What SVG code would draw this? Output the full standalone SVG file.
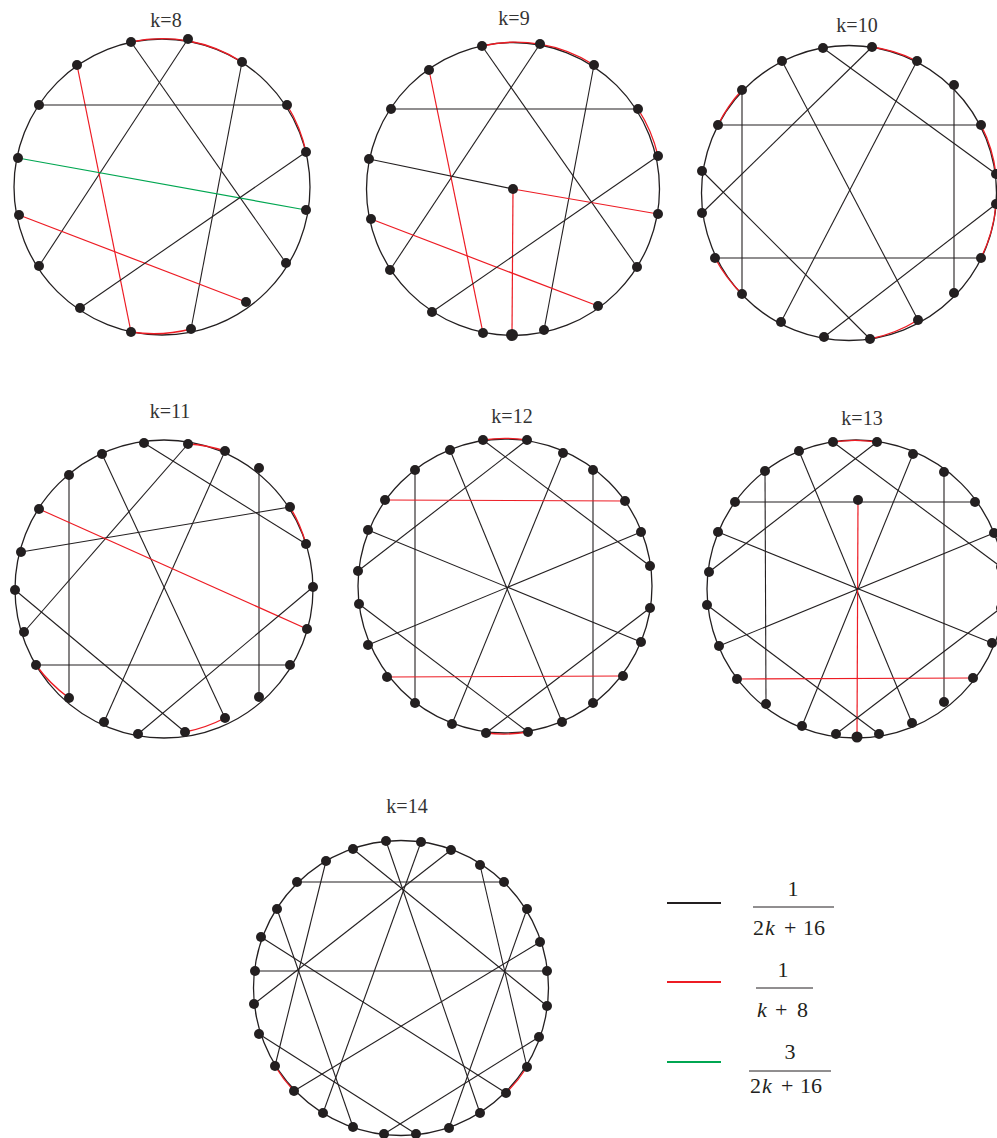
<svg xmlns="http://www.w3.org/2000/svg" width="997" height="1138" viewBox="0 0 997 1138">
<style>
.ring{fill:none;stroke:#231f20;stroke-width:1.3}
.e{stroke:#231f20;stroke-width:1.1;fill:none}
.r{stroke:#ed1c24;stroke-width:1.2;fill:none}
.ra{stroke:#ed1c24;stroke-width:1.35;fill:none}
.g{stroke:#00a651;stroke-width:1.2;fill:none}
.n{fill:#231f20}
.t{font-family:'Liberation Serif',serif;font-size:20px;fill:#333;text-anchor:middle}
.f{font-family:'Liberation Serif',serif;font-size:22px;fill:#231f20}
.fi{font-style:italic}
.bar{stroke:#231f20;stroke-width:1}
</style>
<rect width="997" height="1138" fill="#fff"/>

<!-- k=8 -->
<g id="k8">
<text class="t" x="166" y="27">k=8</text>
<circle class="ring" cx="162" cy="187" r="148"/>
<path class="ra" d="M131,42 A148,148 0 0 1 242,62 M287,105 A148,148 0 0 1 306,152 M191,329 A148,148 0 0 1 131,332"/>
<g id="k8-edges">
<line class="e" x1="131" y1="42" x2="286" y2="263"/>
<line class="e" x1="188" y1="39" x2="39" y2="266"/>
<line class="e" x1="242" y1="62" x2="191" y2="329"/>
<line class="r" x1="77" y1="65" x2="131" y2="332"/>
<line class="e" x1="39" y1="105" x2="287" y2="105"/>
<line class="g" x1="18" y1="158" x2="306" y2="210"/>
<line class="r" x1="19" y1="215" x2="246" y2="302"/>
<line class="e" x1="306" y1="152" x2="80" y2="308"/>
</g>
<g id="k8-nodes" class="n">
<circle id="k8-n1" cx="131" cy="42" r="5"/><circle id="k8-n2" cx="188" cy="39" r="5"/>
<circle id="k8-n3" cx="242" cy="62" r="5"/><circle id="k8-n4" cx="77" cy="65" r="5"/>
<circle id="k8-n5" cx="39" cy="105" r="5"/><circle id="k8-n6" cx="287" cy="105" r="5"/>
<circle id="k8-n7" cx="306" cy="152" r="5"/><circle id="k8-n8" cx="18" cy="158" r="5"/>
<circle id="k8-n9" cx="306" cy="210" r="5"/><circle id="k8-n10" cx="19" cy="215" r="5"/>
<circle id="k8-n11" cx="39" cy="266" r="5"/><circle id="k8-n12" cx="286" cy="263" r="5"/>
<circle id="k8-n13" cx="80" cy="308" r="5"/><circle id="k8-n14" cx="246" cy="302" r="5"/>
<circle id="k8-n15" cx="131" cy="332" r="5"/><circle id="k8-n16" cx="191" cy="329" r="5"/>
</g>
</g>

<!-- k=9 -->
<g id="k9">
<text class="t" x="514" y="25">k=9</text>
<circle class="ring" cx="513" cy="189" r="146.5"/>
<path class="ra" d="M482,46 A146.5,146.5 0 0 1 594,65 M638,109 A146.5,146.5 0 0 1 658,156"/>
<g id="k9-edges">
<line class="e" x1="482" y1="46" x2="637" y2="267"/>
<line class="e" x1="540" y1="44" x2="390" y2="270"/>
<line class="e" x1="594" y1="65" x2="544" y2="330"/>
<line class="r" x1="429" y1="70" x2="483" y2="333"/>
<line class="e" x1="391" y1="109" x2="638" y2="109"/>
<line class="e" x1="369" y1="159" x2="513" y2="189"/>
<line class="r" x1="513" y1="189" x2="658" y2="214"/>
<line class="r" x1="513" y1="189" x2="512" y2="335"/>
<line class="r" x1="371" y1="219" x2="598" y2="306"/>
<line class="e" x1="658" y1="156" x2="432" y2="312"/>
</g>
<g id="k9-nodes" class="n">
<circle id="k9-n1" cx="482" cy="46" r="5"/><circle id="k9-n2" cx="540" cy="44" r="5"/>
<circle id="k9-n3" cx="594" cy="65" r="5"/><circle id="k9-n4" cx="429" cy="70" r="5"/>
<circle id="k9-n5" cx="391" cy="109" r="5"/><circle id="k9-n6" cx="638" cy="109" r="5"/>
<circle id="k9-n7" cx="658" cy="156" r="5"/><circle id="k9-n8" cx="369" cy="159" r="5"/>
<circle id="k9-n9" cx="513" cy="189" r="5"/><circle id="k9-n10" cx="658" cy="214" r="5"/>
<circle id="k9-n11" cx="371" cy="219" r="5"/><circle id="k9-n12" cx="390" cy="270" r="5"/>
<circle id="k9-n13" cx="637" cy="267" r="5"/><circle id="k9-n14" cx="432" cy="312" r="5"/>
<circle id="k9-n15" cx="598" cy="306" r="5"/><circle id="k9-n16" cx="483" cy="333" r="5"/>
<circle id="k9-n17" cx="512" cy="335" r="6"/><circle id="k9-n18" cx="544" cy="330" r="5"/>
</g>
</g>

<!-- k=10 -->
<g id="k10">
<text class="t" x="857" y="32">k=10</text>
<circle class="ring" cx="849" cy="193" r="147.5"/>
<path class="ra" d="M872,47 A147.5,147.5 0 0 1 917,61 M981,125 A147.5,147.5 0 0 1 996,174 M996,204 A147.5,147.5 0 0 1 981,258 M918,320 A147.5,147.5 0 0 1 870,339 M742,294 A147.5,147.5 0 0 1 715,258 M718,125 A147.5,147.5 0 0 1 742,90"/>
<g id="k10-edges">
<line class="e" x1="823" y1="48" x2="996" y2="174"/>
<line class="e" x1="872" y1="47" x2="702" y2="213"/>
<line class="e" x1="917" y1="61" x2="781" y2="322"/>
<line class="e" x1="782" y1="61" x2="918" y2="320"/>
<line class="e" x1="954" y1="85" x2="954" y2="293"/>
<line class="e" x1="742" y1="90" x2="742" y2="294"/>
<line class="e" x1="718" y1="125" x2="981" y2="125"/>
<line class="e" x1="702" y1="171" x2="870" y2="339"/>
<line class="e" x1="996" y1="204" x2="824" y2="337"/>
<line class="e" x1="715" y1="258" x2="981" y2="258"/>
</g>
<g id="k10-nodes" class="n">
<circle id="k10-n1" cx="823" cy="48" r="5"/><circle id="k10-n2" cx="872" cy="47" r="5"/>
<circle id="k10-n3" cx="917" cy="61" r="5"/><circle id="k10-n4" cx="782" cy="61" r="5"/>
<circle id="k10-n5" cx="954" cy="85" r="5"/><circle id="k10-n6" cx="742" cy="90" r="5"/>
<circle id="k10-n7" cx="718" cy="125" r="5"/><circle id="k10-n8" cx="981" cy="125" r="5"/>
<circle id="k10-n9" cx="702" cy="171" r="5"/><circle id="k10-n10" cx="996" cy="174" r="5"/>
<circle id="k10-n11" cx="996" cy="204" r="5"/><circle id="k10-n12" cx="702" cy="213" r="5"/>
<circle id="k10-n13" cx="715" cy="258" r="5"/><circle id="k10-n14" cx="981" cy="258" r="5"/>
<circle id="k10-n15" cx="742" cy="294" r="5"/><circle id="k10-n16" cx="954" cy="293" r="5"/>
<circle id="k10-n17" cx="781" cy="322" r="5"/><circle id="k10-n18" cx="918" cy="320" r="5"/>
<circle id="k10-n19" cx="824" cy="337" r="5"/><circle id="k10-n20" cx="870" cy="339" r="5"/>
</g>
</g>

<!-- k=11 -->
<g id="k11">
<text class="t" x="170" y="418">k=11</text>
<circle class="ring" cx="164" cy="589" r="149"/>
<path class="ra" d="M188,444 A149,149 0 0 1 225,451 M290,507 A149,149 0 0 1 306,544 M225,718 A149,149 0 0 1 185,732 M69,698 A149,149 0 0 1 36,665"/>
<g id="k11-edges">
<line class="e" x1="144" y1="443" x2="306" y2="544"/>
<line class="e" x1="188" y1="444" x2="24" y2="632"/>
<line class="e" x1="225" y1="451" x2="104" y2="722"/>
<line class="e" x1="102" y1="454" x2="225" y2="718"/>
<line class="e" x1="259" y1="468" x2="259" y2="697"/>
<line class="e" x1="69" y1="475" x2="69" y2="698"/>
<line class="e" x1="290" y1="507" x2="21" y2="552"/>
<line class="r" x1="39" y1="509" x2="307" y2="629"/>
<line class="e" x1="15" y1="590" x2="185" y2="732"/>
<line class="e" x1="313" y1="587" x2="138" y2="734"/>
<line class="e" x1="36" y1="665" x2="290" y2="665"/>
</g>
<g id="k11-nodes" class="n">
<circle id="k11-n1" cx="144" cy="443" r="5"/><circle id="k11-n2" cx="188" cy="444" r="5"/>
<circle id="k11-n3" cx="225" cy="451" r="5"/><circle id="k11-n4" cx="102" cy="454" r="5"/>
<circle id="k11-n5" cx="259" cy="468" r="5"/><circle id="k11-n6" cx="69" cy="475" r="5"/>
<circle id="k11-n7" cx="290" cy="507" r="5"/><circle id="k11-n8" cx="39" cy="509" r="5"/>
<circle id="k11-n9" cx="306" cy="544" r="5"/><circle id="k11-n10" cx="21" cy="552" r="5"/>
<circle id="k11-n11" cx="313" cy="587" r="5"/><circle id="k11-n12" cx="15" cy="590" r="5"/>
<circle id="k11-n13" cx="307" cy="629" r="5"/><circle id="k11-n14" cx="24" cy="632" r="5"/>
<circle id="k11-n15" cx="36" cy="665" r="5"/><circle id="k11-n16" cx="290" cy="665" r="5"/>
<circle id="k11-n17" cx="69" cy="698" r="5"/><circle id="k11-n18" cx="259" cy="697" r="5"/>
<circle id="k11-n19" cx="104" cy="722" r="5"/><circle id="k11-n20" cx="225" cy="718" r="5"/>
<circle id="k11-n21" cx="138" cy="734" r="5"/><circle id="k11-n22" cx="185" cy="732" r="5"/>
</g>
</g>

<!-- k=12 -->
<g id="k12">
<text class="t" x="512" y="423">k=12</text>
<circle class="ring" cx="505" cy="586" r="147"/>
<path class="ra" d="M483,440 A147,147 0 0 1 527,440 M528,732 A147,147 0 0 1 486,733"/>
<g id="k12-edges">
<line class="e" x1="483" y1="440" x2="650" y2="566"/>
<line class="e" x1="527" y1="440" x2="358" y2="571"/>
<line class="e" x1="450" y1="450" x2="562" y2="722"/>
<line class="e" x1="563" y1="453" x2="452" y2="724"/>
<line class="e" x1="415" y1="470" x2="415" y2="703"/>
<line class="e" x1="593" y1="470" x2="593" y2="703"/>
<line class="r" x1="385" y1="500" x2="625" y2="501"/>
<line class="e" x1="368" y1="530" x2="641" y2="642"/>
<line class="e" x1="641" y1="532" x2="368" y2="645"/>
<line class="e" x1="359" y1="604" x2="528" y2="732"/>
<line class="e" x1="650" y1="608" x2="486" y2="733"/>
<line class="r" x1="387" y1="677" x2="623" y2="676"/>
</g>
<g id="k12-nodes" class="n">
<circle id="k12-n1" cx="483" cy="440" r="5"/><circle id="k12-n2" cx="527" cy="440" r="5"/>
<circle id="k12-n3" cx="450" cy="450" r="5"/><circle id="k12-n4" cx="563" cy="453" r="5"/>
<circle id="k12-n5" cx="415" cy="470" r="5"/><circle id="k12-n6" cx="593" cy="470" r="5"/>
<circle id="k12-n7" cx="385" cy="500" r="5"/><circle id="k12-n8" cx="625" cy="501" r="5"/>
<circle id="k12-n9" cx="368" cy="530" r="5"/><circle id="k12-n10" cx="641" cy="532" r="5"/>
<circle id="k12-n11" cx="358" cy="571" r="5"/><circle id="k12-n12" cx="650" cy="566" r="5"/>
<circle id="k12-n13" cx="359" cy="604" r="5"/><circle id="k12-n14" cx="650" cy="608" r="5"/>
<circle id="k12-n15" cx="368" cy="645" r="5"/><circle id="k12-n16" cx="641" cy="642" r="5"/>
<circle id="k12-n17" cx="387" cy="677" r="5"/><circle id="k12-n18" cx="623" cy="676" r="5"/>
<circle id="k12-n19" cx="415" cy="703" r="5"/><circle id="k12-n20" cx="593" cy="703" r="5"/>
<circle id="k12-n21" cx="452" cy="724" r="5"/><circle id="k12-n22" cx="562" cy="722" r="5"/>
<circle id="k12-n23" cx="486" cy="733" r="5"/><circle id="k12-n24" cx="528" cy="732" r="5"/>
</g>
</g>

<!-- k=13 -->
<g id="k13">
<text class="t" x="862" y="425">k=13</text>
<circle class="ring" cx="856" cy="589" r="149"/>
<path class="ra" d="M833,442 A149,149 0 0 1 877,442"/>
<g id="k13-edges">
<line class="e" x1="833" y1="442" x2="1001" y2="567"/>
<line class="e" x1="877" y1="442" x2="709" y2="572"/>
<line class="e" x1="799" y1="451" x2="912" y2="723"/>
<line class="e" x1="913" y1="454" x2="802" y2="726"/>
<line class="e" x1="765" y1="471" x2="766" y2="704"/>
<line class="e" x1="944" y1="472" x2="944" y2="702"/>
<line class="e" x1="735" y1="502" x2="975" y2="502"/>
<line class="r" x1="858" y1="500" x2="857" y2="737"/>
<line class="e" x1="718" y1="532" x2="992" y2="643"/>
<line class="e" x1="994" y1="533" x2="719" y2="646"/>
<line class="e" x1="707" y1="605" x2="879" y2="734"/>
<line class="e" x1="1001" y1="608" x2="836" y2="734"/>
<line class="r" x1="737" y1="679" x2="973" y2="678"/>
</g>
<g id="k13-nodes" class="n">
<circle id="k13-n1" cx="833" cy="442" r="5"/><circle id="k13-n2" cx="877" cy="442" r="5"/>
<circle id="k13-n3" cx="799" cy="451" r="5"/><circle id="k13-n4" cx="913" cy="454" r="5"/>
<circle id="k13-n5" cx="765" cy="471" r="5"/><circle id="k13-n6" cx="944" cy="472" r="5"/>
<circle id="k13-n7" cx="735" cy="502" r="5"/><circle id="k13-n8" cx="858" cy="500" r="5"/>
<circle id="k13-n9" cx="975" cy="502" r="5"/><circle id="k13-n10" cx="718" cy="532" r="5"/>
<circle id="k13-n11" cx="994" cy="533" r="5"/><circle id="k13-n12" cx="709" cy="572" r="5"/>
<circle id="k13-n13" cx="1001" cy="567" r="5"/><circle id="k13-n14" cx="707" cy="605" r="5"/>
<circle id="k13-n15" cx="1001" cy="608" r="5"/><circle id="k13-n16" cx="719" cy="646" r="5"/>
<circle id="k13-n17" cx="992" cy="643" r="5"/><circle id="k13-n18" cx="737" cy="679" r="5"/>
<circle id="k13-n19" cx="973" cy="678" r="5"/><circle id="k13-n20" cx="766" cy="704" r="5"/>
<circle id="k13-n21" cx="944" cy="702" r="5"/><circle id="k13-n22" cx="802" cy="726" r="5"/>
<circle id="k13-n23" cx="912" cy="723" r="5"/><circle id="k13-n24" cx="836" cy="734" r="5"/>
<circle id="k13-n25" cx="857" cy="737" r="5.5"/><circle id="k13-n26" cx="879" cy="734" r="5"/>
</g>
</g>

<!-- k=14 -->
<g id="k14">
<text class="t" x="407" y="813">k=14</text>
<circle class="ring" cx="401" cy="988" r="147.5"/>
<path class="ra" d="M527,1067 A147.5,147.5 0 0 1 506,1093 M294,1091 A147.5,147.5 0 0 1 275,1066"/>
<g id="k14-edges">
<line class="e" x1="297" y1="882" x2="504" y2="882"/>
<line class="e" x1="255" y1="971" x2="547" y2="971"/>
<line class="e" x1="353" y1="849" x2="547" y2="1006"/>
<line class="e" x1="451" y1="850" x2="254" y2="1004"/>
<line class="e" x1="386" y1="841" x2="480" y2="1113"/>
<line class="e" x1="421" y1="842" x2="323" y2="1113"/>
<line class="e" x1="326" y1="861" x2="275" y2="1066"/>
<line class="e" x1="480" y1="865" x2="527" y2="1067"/>
<line class="e" x1="277" y1="909" x2="353" y2="1127"/>
<line class="e" x1="527" y1="909" x2="449" y2="1128"/>
<line class="e" x1="261" y1="937" x2="506" y2="1093"/>
<line class="e" x1="540" y1="942" x2="294" y2="1091"/>
<line class="e" x1="259" y1="1034" x2="416" y2="1134"/>
<line class="e" x1="384" y1="1134" x2="539" y2="1037"/>
</g>
<g id="k14-nodes" class="n">
<circle id="k14-n1" cx="386" cy="841" r="5"/><circle id="k14-n2" cx="421" cy="842" r="5"/>
<circle id="k14-n3" cx="353" cy="849" r="5"/><circle id="k14-n4" cx="451" cy="850" r="5"/>
<circle id="k14-n5" cx="326" cy="861" r="5"/><circle id="k14-n6" cx="480" cy="865" r="5"/>
<circle id="k14-n7" cx="297" cy="882" r="5"/><circle id="k14-n8" cx="504" cy="882" r="5"/>
<circle id="k14-n9" cx="277" cy="909" r="5"/><circle id="k14-n10" cx="527" cy="909" r="5"/>
<circle id="k14-n11" cx="261" cy="937" r="5"/><circle id="k14-n12" cx="540" cy="942" r="5"/>
<circle id="k14-n13" cx="255" cy="971" r="5"/><circle id="k14-n14" cx="547" cy="971" r="5"/>
<circle id="k14-n15" cx="254" cy="1004" r="5"/><circle id="k14-n16" cx="547" cy="1006" r="5"/>
<circle id="k14-n17" cx="259" cy="1034" r="5"/><circle id="k14-n18" cx="539" cy="1037" r="5"/>
<circle id="k14-n19" cx="275" cy="1066" r="5"/><circle id="k14-n20" cx="527" cy="1067" r="5"/>
<circle id="k14-n21" cx="294" cy="1091" r="5"/><circle id="k14-n22" cx="506" cy="1093" r="5"/>
<circle id="k14-n23" cx="323" cy="1113" r="5"/><circle id="k14-n24" cx="480" cy="1113" r="5"/>
<circle id="k14-n25" cx="353" cy="1127" r="5"/><circle id="k14-n26" cx="449" cy="1128" r="5"/>
<circle id="k14-n27" cx="384" cy="1134" r="5"/><circle id="k14-n28" cx="416" cy="1134" r="5"/>
</g>
</g>

<!-- legend -->
<g id="legend">
<line x1="667" y1="903" x2="721" y2="903" stroke="#231f20" stroke-width="2"/>
<line x1="667" y1="982" x2="721" y2="982" stroke="#ed1c24" stroke-width="2"/>
<line x1="667" y1="1062" x2="721" y2="1062" stroke="#00a651" stroke-width="2"/>

<text class="f" x="793" y="896" text-anchor="middle">1</text>
<line class="bar" x1="753" y1="907" x2="834" y2="907"/>
<text class="f" x="753" y="935">2<tspan class="fi" x="765">k</tspan><tspan x="784">+</tspan><tspan x="803">16</tspan></text>

<text class="f" x="783" y="977" text-anchor="middle">1</text>
<line class="bar" x1="756" y1="988" x2="813" y2="988"/>
<text class="f" x="757" y="1017"><tspan class="fi">k</tspan><tspan x="775">+</tspan><tspan x="797">8</tspan></text>

<text class="f" x="790" y="1059" text-anchor="middle">3</text>
<line class="bar" x1="749" y1="1071" x2="831" y2="1071"/>
<text class="f" x="750" y="1093">2<tspan class="fi" x="762">k</tspan><tspan x="781">+</tspan><tspan x="800">16</tspan></text>
</g>
</svg>
